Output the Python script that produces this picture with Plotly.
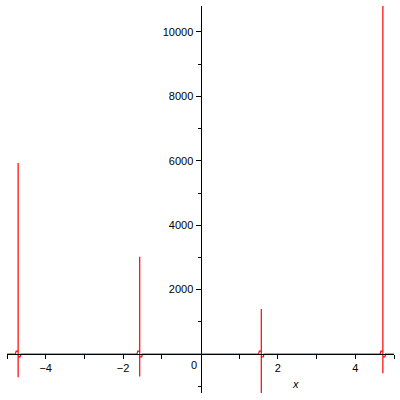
import plotly.graph_objects as go

# Data (Maple-style plot with poles at odd multiples of pi/2)
pole_x = [-4.7124, -1.5708, 1.5708, 4.7124]
pole_top = [5930, 3020, 1400, 11500]
pole_bottom = [-720, -700, -1500, -600]
blip = [90, 90, -90, 90]

x_range = [-5.0, 5.0]
y_range = [-1211, 10807]

xtick_vals = [-4, -2, 2, 4]
xtick_text = ["\u22124", "\u22122", "2", "4"]
xminor_vals = [-5, -3, -1, 1, 3, 5]
ytick_vals = [2000, 4000, 6000, 8000, 10000]
ytick_text = ["2000", "4000", "6000", "8000", "10000"]
yminor_vals = [-1000, 1000, 3000, 5000, 7000, 9000]

# Build the curve: flat near zero, spiking at each pole
xs, ys = [x_range[0]], [0]
for p, top, bot, b in zip(pole_x, pole_top, pole_bottom, blip):
    xs += [p - 0.07, p - 0.05, p, p, p, p, p + 0.05, p + 0.07]
    ys += [0, abs(b), abs(b), top, bot, -abs(b), -abs(b), 0]
xs.append(x_range[1])
ys.append(0)

fig = go.Figure()
fig.add_trace(go.Scatter(x=xs, y=ys, mode="lines",
                         line=dict(color="#ff0000", width=1.2),
                         hoverinfo="skip", showlegend=False))

font = dict(family="Liberation Sans", size=11, color="#000000")
x_pos = (0 - y_range[0]) / (y_range[1] - y_range[0])
y_pos = (0 - x_range[0]) / (x_range[1] - x_range[0])

fig.update_layout(
    template="none",
    width=400, height=400,
    margin=dict(l=7, r=6, t=6, b=7, autoexpand=False),
    paper_bgcolor="white", plot_bgcolor="white",
    font=font,
    xaxis=dict(range=x_range, showgrid=False, zeroline=False, automargin=False,
               showline=True, linecolor="black", linewidth=1,
               anchor="free", position=x_pos,
               tickmode="array", tickvals=xtick_vals, ticktext=xtick_text,
               ticks="outside", ticklen=4, tickcolor="black", tickwidth=1,
               minor=dict(tickmode="array", tickvals=xminor_vals, ticks="outside",
                          ticklen=4, tickcolor="black", tickwidth=1, showgrid=False),
               tickfont=font, layer="above traces"),
    yaxis=dict(range=y_range, showgrid=False, zeroline=False, automargin=False,
               showline=True, linecolor="black", linewidth=1,
               anchor="free", position=y_pos,
               tickmode="array", tickvals=ytick_vals, ticktext=ytick_text,
               ticks="outside", ticklen=5, tickcolor="black", tickwidth=1,
               minor=dict(tickmode="array", tickvals=yminor_vals, ticks="outside",
                          ticklen=3, tickcolor="black", tickwidth=1, showgrid=False),
               tickfont=font, layer="above traces"),
    annotations=[
        dict(x=-0.16, y=-340, xref="x", yref="y", text="0", showarrow=False,
             font=font),
        dict(x=2.46, y=-935, xref="x", yref="y", text="<i>x</i>", showarrow=False,
             font=font),
    ],
)

fig.write_html("out.html", config={"displayModeBar": False},
               post_script="document.body.style.margin='0px';document.body.style.padding='0px';")
